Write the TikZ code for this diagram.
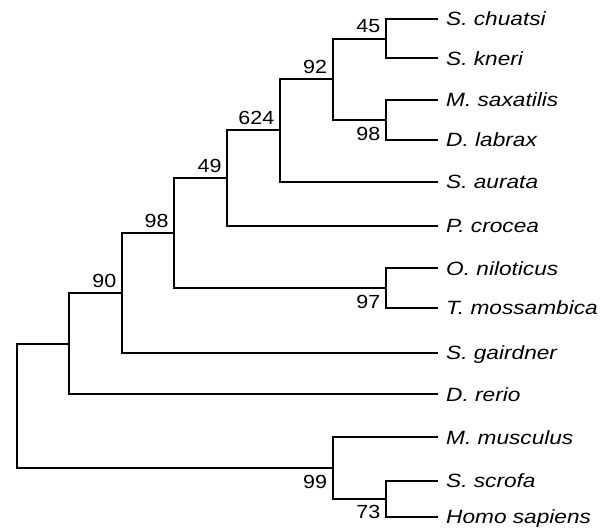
\documentclass[tikz,border=0pt]{standalone}
\usepackage{fontspec}
\newfontfamily\leaffont[FakeStretch=1.18]{Liberation Sans}
\newfontfamily\numfont[FakeStretch=1.13]{Liberation Sans}
\begin{document}
\begin{tikzpicture}[x=1pt,y=-1pt,
  branch/.style={line width=2pt,line cap=rect},
  leaf/.style={anchor=west,inner xsep=9pt,inner ysep=0pt,text height=13.8pt,text depth=0pt,
    font=\leaffont\itshape\fontsize{19.2}{21}\selectfont},
  support/.style={inner sep=0pt,text height=13.6pt,text depth=0pt,
    font=\numfont\fontsize{19}{21}\selectfont},
  above support/.style={support,anchor=south east,xshift=-5.5pt,yshift=5.5pt},
  below support/.style={support,anchor=north east,xshift=-5.5pt,yshift=-6.5pt}]
\useasboundingbox (0,0) rectangle (613,529);

% taxa
\node[leaf] (chuatsi) at (437,19) {S. chuatsi};
\node[leaf] (kneri) at (437,58.3) {S. kneri};
\node[leaf] (saxatilis) at (437,100) {M. saxatilis};
\node[leaf] (labrax) at (437,140) {D. labrax};
\node[leaf] (aurata) at (437,181.7) {S. aurata};
\node[leaf] (crocea) at (437,226) {P. crocea};
\node[leaf] (niloticus) at (437,268.3) {O. niloticus};
\node[leaf] (mossambica) at (437,307.7) {T. mossambica};
\node[leaf] (gairdner) at (437,352.5) {S. gairdner};
\node[leaf] (rerio) at (437,394.3) {D. rerio};
\node[leaf] (musculus) at (437,437.3) {M. musculus};
\node[leaf] (scrofa) at (437,480.5) {S. scrofa};
\node[leaf] (sapiens) at (437,516.7) {Homo sapiens};

% internal nodes
\coordinate (n45) at (386,38.7);
\coordinate (n98a) at (386,120);
\coordinate (n92) at (332.7,79.3);
\coordinate (n624) at (280,130.5);
\coordinate (n49) at (227.3,178.3);
\coordinate (n97) at (386,288);
\coordinate (n98) at (174.3,233.1);
\coordinate (n90) at (122,292.8);
\coordinate (n69) at (69,343.5);
\coordinate (n73) at (386,498.6);
\coordinate (n99) at (332.7,468);
\coordinate (root) at (16.7,405.7);

% branches
\draw[branch] (chuatsi.west) -| (n45) |- (kneri.west);
\draw[branch] (saxatilis.west) -| (n98a) |- (labrax.west);
\draw[branch] (n45) -| (n92) |- (n98a);
\draw[branch] (n92) -| (n624) |- (aurata.west);
\draw[branch] (n624) -| (n49) |- (crocea.west);
\draw[branch] (niloticus.west) -| (n97) |- (mossambica.west);
\draw[branch] (n49) -| (n98) |- (n97);
\draw[branch] (n98) -| (n90) |- (gairdner.west);
\draw[branch] (n90) -| (n69) |- (rerio.west);
\draw[branch] (scrofa.west) -| (n73) |- (sapiens.west);
\draw[branch] (musculus.west) -| (n99) |- (n73);
\draw[branch] (n69) -| (root) |- (n99);

% bootstrap values
\node[above support] (l45) at (n45) {45};
\node[below support] (l98a) at (n98a) {98};
\node[above support] (l92) at (n92) {92};
\node[above support] (l624) at (n624) {624};
\node[above support] (l49) at (n49) {49};
\node[below support] (l97) at (n97) {97};
\node[above support] (l98) at (n98) {98};
\node[above support] (l90) at (n90) {90};
\node[below support] (l99) at (n99) {99};
\node[below support] (l73) at (n73) {73};
\end{tikzpicture}
\end{document}
